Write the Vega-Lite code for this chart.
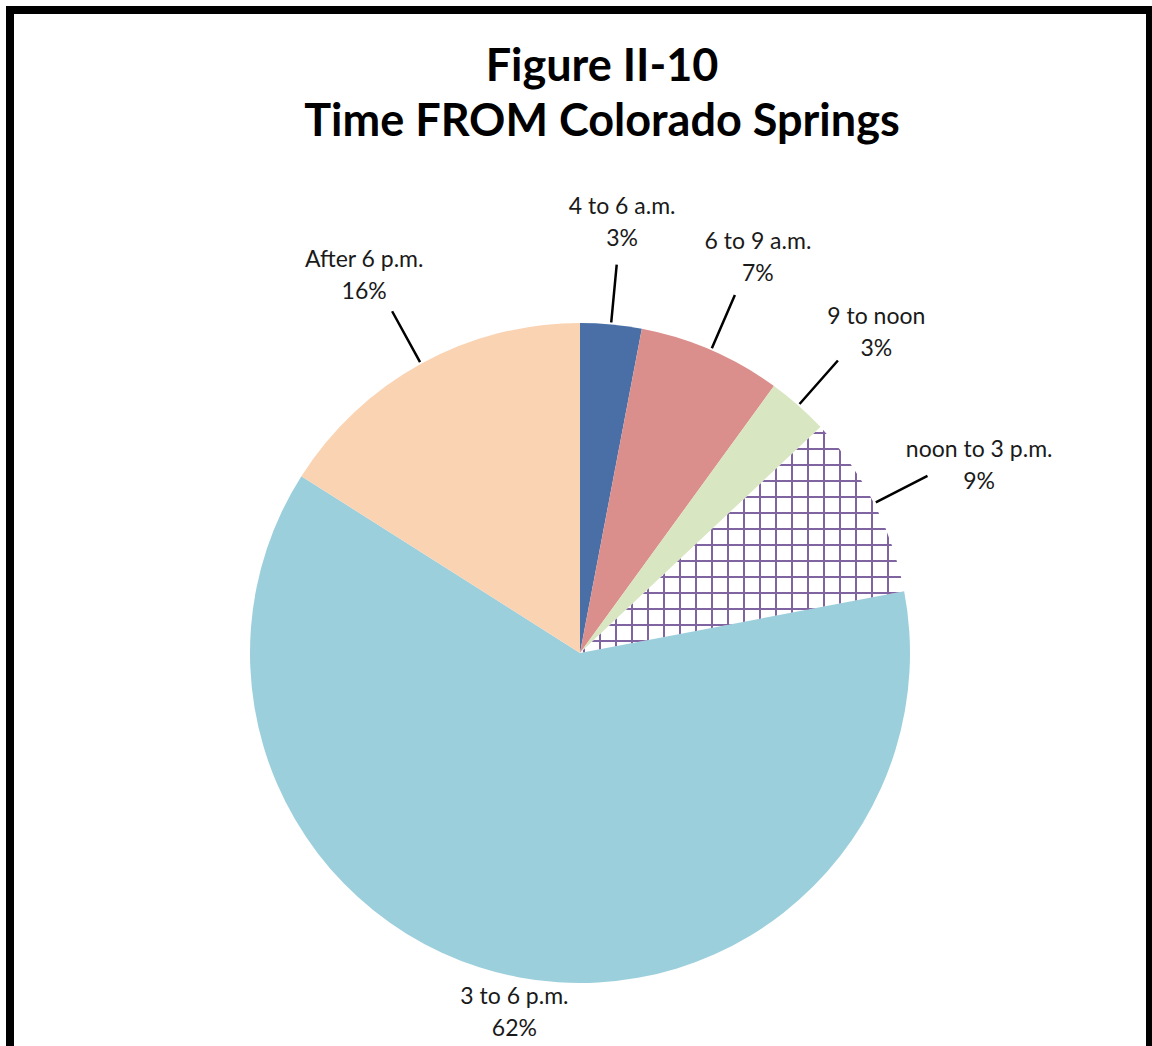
{
  "$schema": "https://vega.github.io/schema/vega-lite/v6.json",
  "padding": {"left": 4, "top": 4, "right": 0, "bottom": 0},
  "background": "white",
  "spacing": 0,
  "bounds": "flush",
  "config": {"view": {"stroke": null}},
  "vconcat": [
    {
      "width": 1140,
      "height": 252,
      "view": {"stroke": "black", "strokeWidth": 8, "strokeCap": "square", "strokeDash": [1392, 1140, 252]},
      "title": {
        "text": ["Figure II-10", "Time FROM Colorado Springs"],
        "anchor": "middle",
        "font": "Lato",
        "fontSize": 45,
        "fontWeight": "bold",
        "color": "#000000",
        "lineHeight": 55,
        "baseline": "alphabetic",
        "offset": -72,
        "dx": 22,
        "dy": 99
      },
      "data": {"values": []},
      "mark": "text"
    },
    {
      "width": 1140,
      "height": 782,
      "view": {"stroke": "black", "strokeWidth": 8, "strokeCap": "square", "strokeDash": [0, 1140, 782, 1140, 782]},
      "data": {
        "values": [
          {"rank": 1, "time": "4 to 6 a.m.", "share": 0.03},
          {"rank": 2, "time": "6 to 9 a.m.", "share": 0.07},
          {"rank": 3, "time": "9 to noon", "share": 0.03},
          {"rank": 4, "time": "noon to 3 p.m.", "share": 0.09},
          {"rank": 5, "time": "3 to 6 p.m.", "share": 0.62},
          {"rank": 6, "time": "After 6 p.m.", "share": 0.16}
        ]
      },
      "transform": [
        {"window": [{"op": "sum", "field": "share", "as": "end"}], "sort": [{"field": "rank"}], "frame": [null, 0]},
        {"calculate": "datum.end - datum.share", "as": "start"},
        {"calculate": "datum.end - datum.share / 2", "as": "mid"},
        {"calculate": "datum.time + '\\n' + format(datum.share, '.0%')", "as": "label"}
      ],
      "layer": [
        {
          "mark": {"type": "arc", "outerRadius": 330, "stroke": null},
          "encoding": {
            "theta": {"field": "start", "type": "quantitative", "scale": {"domain": [0, 1]}},
            "theta2": {"field": "end"},
            "fill": {
              "field": "time",
              "type": "nominal",
              "legend": null,
              "scale": {
                "domain": ["4 to 6 a.m.", "6 to 9 a.m.", "9 to noon", "noon to 3 p.m.", "3 to 6 p.m.", "After 6 p.m."],
                "range": ["#4a6fa6", "#da8f8d", "#d8e6c1", "#ffffff", "#9ccfdc", "#fad3b3"]
              }
            }
          }
        },
        {
          "transform": [{"filter": "datum.time == 'noon to 3 p.m.'"}],
          "mark": {
            "type": "arc",
            "outerRadius": 330,
            "stroke": null,
            "fill": {
              "gradient": "linear", "x1": 0, "y1": 0, "x2": 1, "y2": 0,
              "stops": [
                {"offset": 0, "color": "rgba(128,100,162,0)"},
                {"offset": 0.0100, "color": "rgba(128,100,162,0)"}, {"offset": 0.0100, "color": "#8064a2"}, {"offset": 0.0162, "color": "#8064a2"}, {"offset": 0.0162, "color": "rgba(128,100,162,0)"},
                {"offset": 0.0594, "color": "rgba(128,100,162,0)"}, {"offset": 0.0594, "color": "#8064a2"}, {"offset": 0.0656, "color": "#8064a2"}, {"offset": 0.0656, "color": "rgba(128,100,162,0)"},
                {"offset": 0.1087, "color": "rgba(128,100,162,0)"}, {"offset": 0.1087, "color": "#8064a2"}, {"offset": 0.1149, "color": "#8064a2"}, {"offset": 0.1149, "color": "rgba(128,100,162,0)"},
                {"offset": 0.1581, "color": "rgba(128,100,162,0)"}, {"offset": 0.1581, "color": "#8064a2"}, {"offset": 0.1643, "color": "#8064a2"}, {"offset": 0.1643, "color": "rgba(128,100,162,0)"},
                {"offset": 0.2074, "color": "rgba(128,100,162,0)"}, {"offset": 0.2074, "color": "#8064a2"}, {"offset": 0.2136, "color": "#8064a2"}, {"offset": 0.2136, "color": "rgba(128,100,162,0)"},
                {"offset": 0.2568, "color": "rgba(128,100,162,0)"}, {"offset": 0.2568, "color": "#8064a2"}, {"offset": 0.2630, "color": "#8064a2"}, {"offset": 0.2630, "color": "rgba(128,100,162,0)"},
                {"offset": 0.3061, "color": "rgba(128,100,162,0)"}, {"offset": 0.3061, "color": "#8064a2"}, {"offset": 0.3123, "color": "#8064a2"}, {"offset": 0.3123, "color": "rgba(128,100,162,0)"},
                {"offset": 0.3555, "color": "rgba(128,100,162,0)"}, {"offset": 0.3555, "color": "#8064a2"}, {"offset": 0.3617, "color": "#8064a2"}, {"offset": 0.3617, "color": "rgba(128,100,162,0)"},
                {"offset": 0.4048, "color": "rgba(128,100,162,0)"}, {"offset": 0.4048, "color": "#8064a2"}, {"offset": 0.4110, "color": "#8064a2"}, {"offset": 0.4110, "color": "rgba(128,100,162,0)"},
                {"offset": 0.4542, "color": "rgba(128,100,162,0)"}, {"offset": 0.4542, "color": "#8064a2"}, {"offset": 0.4604, "color": "#8064a2"}, {"offset": 0.4604, "color": "rgba(128,100,162,0)"},
                {"offset": 0.5035, "color": "rgba(128,100,162,0)"}, {"offset": 0.5035, "color": "#8064a2"}, {"offset": 0.5097, "color": "#8064a2"}, {"offset": 0.5097, "color": "rgba(128,100,162,0)"},
                {"offset": 0.5529, "color": "rgba(128,100,162,0)"}, {"offset": 0.5529, "color": "#8064a2"}, {"offset": 0.5591, "color": "#8064a2"}, {"offset": 0.5591, "color": "rgba(128,100,162,0)"},
                {"offset": 0.6022, "color": "rgba(128,100,162,0)"}, {"offset": 0.6022, "color": "#8064a2"}, {"offset": 0.6084, "color": "#8064a2"}, {"offset": 0.6084, "color": "rgba(128,100,162,0)"},
                {"offset": 0.6516, "color": "rgba(128,100,162,0)"}, {"offset": 0.6516, "color": "#8064a2"}, {"offset": 0.6578, "color": "#8064a2"}, {"offset": 0.6578, "color": "rgba(128,100,162,0)"},
                {"offset": 0.7009, "color": "rgba(128,100,162,0)"}, {"offset": 0.7009, "color": "#8064a2"}, {"offset": 0.7071, "color": "#8064a2"}, {"offset": 0.7071, "color": "rgba(128,100,162,0)"},
                {"offset": 0.7503, "color": "rgba(128,100,162,0)"}, {"offset": 0.7503, "color": "#8064a2"}, {"offset": 0.7565, "color": "#8064a2"}, {"offset": 0.7565, "color": "rgba(128,100,162,0)"},
                {"offset": 0.7996, "color": "rgba(128,100,162,0)"}, {"offset": 0.7996, "color": "#8064a2"}, {"offset": 0.8058, "color": "#8064a2"}, {"offset": 0.8058, "color": "rgba(128,100,162,0)"},
                {"offset": 0.8490, "color": "rgba(128,100,162,0)"}, {"offset": 0.8490, "color": "#8064a2"}, {"offset": 0.8552, "color": "#8064a2"}, {"offset": 0.8552, "color": "rgba(128,100,162,0)"},
                {"offset": 0.8983, "color": "rgba(128,100,162,0)"}, {"offset": 0.8983, "color": "#8064a2"}, {"offset": 0.9045, "color": "#8064a2"}, {"offset": 0.9045, "color": "rgba(128,100,162,0)"},
                {"offset": 0.9477, "color": "rgba(128,100,162,0)"}, {"offset": 0.9477, "color": "#8064a2"}, {"offset": 0.9539, "color": "#8064a2"}, {"offset": 0.9539, "color": "rgba(128,100,162,0)"},
                {"offset": 1, "color": "rgba(128,100,162,0)"}
              ]
            }
          },
          "encoding": {
            "theta": {"field": "start", "type": "quantitative", "scale": {"domain": [0, 1]}},
            "theta2": {"field": "end"}
          }
        },
        {
          "transform": [{"filter": "datum.time == 'noon to 3 p.m.'"}],
          "mark": {
            "type": "arc",
            "outerRadius": 330,
            "stroke": null,
            "fill": {
              "gradient": "linear", "x1": 0, "y1": 0, "x2": 0, "y2": 1,
              "stops": [
                {"offset": 0, "color": "rgba(128,100,162,0)"},
                {"offset": 0.0200, "color": "rgba(128,100,162,0)"}, {"offset": 0.0200, "color": "#8064a2"}, {"offset": 0.0289, "color": "#8064a2"}, {"offset": 0.0289, "color": "rgba(128,100,162,0)"},
                {"offset": 0.0908, "color": "rgba(128,100,162,0)"}, {"offset": 0.0908, "color": "#8064a2"}, {"offset": 0.0997, "color": "#8064a2"}, {"offset": 0.0997, "color": "rgba(128,100,162,0)"},
                {"offset": 0.1617, "color": "rgba(128,100,162,0)"}, {"offset": 0.1617, "color": "#8064a2"}, {"offset": 0.1706, "color": "#8064a2"}, {"offset": 0.1706, "color": "rgba(128,100,162,0)"},
                {"offset": 0.2325, "color": "rgba(128,100,162,0)"}, {"offset": 0.2325, "color": "#8064a2"}, {"offset": 0.2414, "color": "#8064a2"}, {"offset": 0.2414, "color": "rgba(128,100,162,0)"},
                {"offset": 0.3033, "color": "rgba(128,100,162,0)"}, {"offset": 0.3033, "color": "#8064a2"}, {"offset": 0.3122, "color": "#8064a2"}, {"offset": 0.3122, "color": "rgba(128,100,162,0)"},
                {"offset": 0.3742, "color": "rgba(128,100,162,0)"}, {"offset": 0.3742, "color": "#8064a2"}, {"offset": 0.3831, "color": "#8064a2"}, {"offset": 0.3831, "color": "rgba(128,100,162,0)"},
                {"offset": 0.4450, "color": "rgba(128,100,162,0)"}, {"offset": 0.4450, "color": "#8064a2"}, {"offset": 0.4539, "color": "#8064a2"}, {"offset": 0.4539, "color": "rgba(128,100,162,0)"},
                {"offset": 0.5158, "color": "rgba(128,100,162,0)"}, {"offset": 0.5158, "color": "#8064a2"}, {"offset": 0.5247, "color": "#8064a2"}, {"offset": 0.5247, "color": "rgba(128,100,162,0)"},
                {"offset": 0.5866, "color": "rgba(128,100,162,0)"}, {"offset": 0.5866, "color": "#8064a2"}, {"offset": 0.5955, "color": "#8064a2"}, {"offset": 0.5955, "color": "rgba(128,100,162,0)"},
                {"offset": 0.6575, "color": "rgba(128,100,162,0)"}, {"offset": 0.6575, "color": "#8064a2"}, {"offset": 0.6664, "color": "#8064a2"}, {"offset": 0.6664, "color": "rgba(128,100,162,0)"},
                {"offset": 0.7283, "color": "rgba(128,100,162,0)"}, {"offset": 0.7283, "color": "#8064a2"}, {"offset": 0.7372, "color": "#8064a2"}, {"offset": 0.7372, "color": "rgba(128,100,162,0)"},
                {"offset": 0.7991, "color": "rgba(128,100,162,0)"}, {"offset": 0.7991, "color": "#8064a2"}, {"offset": 0.8080, "color": "#8064a2"}, {"offset": 0.8080, "color": "rgba(128,100,162,0)"},
                {"offset": 0.8700, "color": "rgba(128,100,162,0)"}, {"offset": 0.8700, "color": "#8064a2"}, {"offset": 0.8789, "color": "#8064a2"}, {"offset": 0.8789, "color": "rgba(128,100,162,0)"},
                {"offset": 0.9408, "color": "rgba(128,100,162,0)"}, {"offset": 0.9408, "color": "#8064a2"}, {"offset": 0.9497, "color": "#8064a2"}, {"offset": 0.9497, "color": "rgba(128,100,162,0)"},
                {"offset": 1, "color": "rgba(128,100,162,0)"}
              ]
            }
          },
          "encoding": {
            "theta": {"field": "start", "type": "quantitative", "scale": {"domain": [0, 1]}},
            "theta2": {"field": "end"}
          }
        },
        {
          "transform": [{"filter": "datum.share < 0.5"}],
          "mark": {"type": "arc", "innerRadius": 332, "outerRadius": 390, "stroke": "black", "strokeWidth": 2.5, "fill": null},
          "encoding": {
            "theta": {"field": "mid", "type": "quantitative", "scale": {"domain": [0, 1]}},
            "theta2": {"field": "mid"}
          }
        },
        {
          "transform": [{"filter": "datum.share < 0.5"}],
          "mark": {"type": "text", "radius": 448, "font": "Lato", "fontSize": 23, "color": "#1a1a1a", "lineBreak": "\n", "lineHeight": 32, "align": "center", "baseline": "middle"},
          "encoding": {
            "theta": {"field": "mid", "type": "quantitative", "scale": {"domain": [0, 1]}},
            "text": {"field": "label"}
          }
        },
        {
          "transform": [{"filter": "datum.share >= 0.5"}],
          "mark": {"type": "text", "radius": 350, "font": "Lato", "fontSize": 23, "color": "#1a1a1a", "lineBreak": "\n", "lineHeight": 32, "align": "center", "baseline": "middle"},
          "encoding": {
            "theta": {"field": "mid", "type": "quantitative", "scale": {"domain": [0, 1]}},
            "text": {"field": "label"}
          }
        }
      ]
    }
  ]
}
